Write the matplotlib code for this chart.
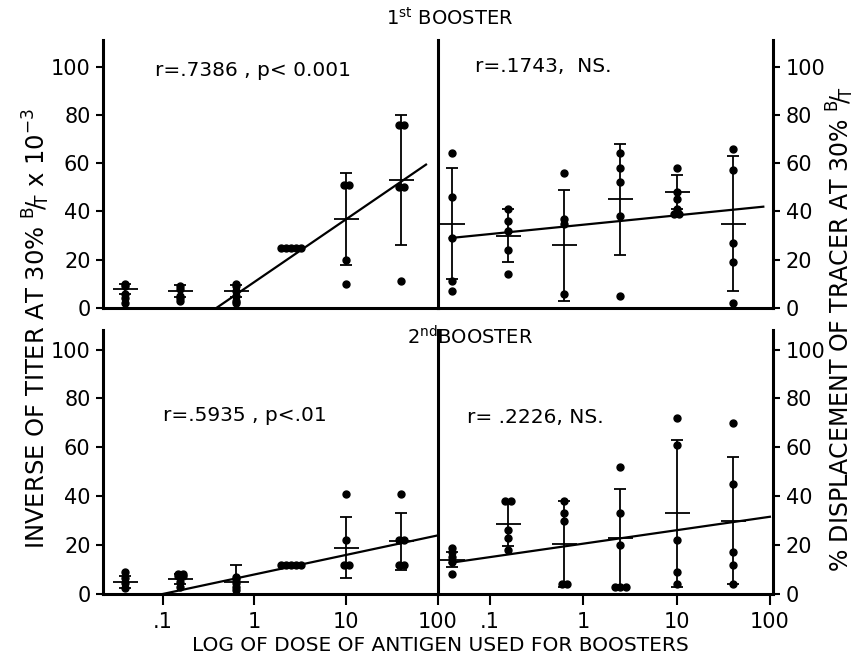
import math
import matplotlib.pyplot as plt

plt.rcParams['font.family'] = ['DejaVu Sans']
plt.rcParams['mathtext.default'] = 'regular'

# 抗原剂量（每组 4 倍稀释）
doses = [0.039, 0.156, 0.625, 2.5, 10, 40]

# 1st booster - 滴度倒数
tl_pts = [[10, 9, 6, 4, 2], [9, 8, 5, 4, 3], [10, 9, 7, 5, 3, 2],
          [25, 25, 25, 25, 25], [51, 51, 20, 10], [76, 76, 50, 50, 11]]
tl_mean = [8, 7, 7, 25, 37, 53]
tl_sd = [2, 2.5, 2.5, 0, 19, 27]
tl_fit = (10.8, 26.0)        # 截距, 斜率 (每个数量级)
tl_span = (0.38, 74)

# 1st booster - 示踪剂置换 %
tr_pts = [[64, 46, 29, 11, 7], [41, 36, 32, 24, 14], [56, 37, 35, 6],
          [64, 58, 52, 38, 5], [58, 48, 45, 41, 39, 39], [66, 57, 27, 19, 2]]
tr_mean = [35, 30, 26, 45, 48, 35]
tr_sd = [23, 11, 23, 23, 7, 28]
tr_fit = (34.5, 3.87)
tr_span = (0.037, 85)

# 2nd booster - 滴度倒数
bl_pts = [[9, 6.5, 4.5, 2.5], [8, 8, 7.5, 7.5, 5, 3], [7, 6, 4.5, 3, 1.5],
          [12, 12, 12, 12, 12], [41, 22, 12, 12], [41, 22, 22, 12, 12]]
bl_mean = [5, 6, 5, 12, 19, 21.5]
bl_sd = [2.5, 2, 7, 0, 12.5, 11.5]
bl_fit = (8.0, 8.0)
bl_span = (0.1, 100)

# 2nd booster - 示踪剂置换 %
br_pts = [[19, 17, 15, 13, 8], [38, 38, 26, 23, 18], [38, 33, 30, 4, 4],
          [52, 33, 20, 3, 3, 3], [72, 61, 22, 9, 4], [70, 45, 17, 12, 4]]
br_mean = [14, 28.5, 20.5, 23, 33, 30]
br_sd = [3, 9, 17.5, 20, 30, 26]
br_fit = (20.6, 5.5)
br_span = (0.037, 100)

stats = ['r=.7386 , p< 0.001', 'r=.1743,  NS.', 'r=.5935 , p<.01', 'r= .2226, NS.']
yticks = [0, 20, 40, 60, 80, 100]
left_xticks = [0.1, 1, 10, 100]
left_xlabels = ['.1', '1', '10', '100']
right_xticks = [0.1, 1, 10, 100]
right_xlabels = ['.1', '1', '10', '100']

fig = plt.figure(figsize=(8.55, 6.69), dpi=100)

def draw_panel(ax, pts, means, sds, fit, span):
    for d, vals, m, s in zip(doses, pts, means, sds):
        # 相同数值的点并排摆开
        counts = {}
        for v in vals:
            counts[v] = counts.get(v, 0) + 1
        seen = {}
        xs = []
        for v in vals:
            k = seen.get(v, 0)
            seen[v] = k + 1
            off = (k - (counts[v] - 1) / 2) * 0.055
            xs.append(d * 10 ** off)
        ax.plot(xs, vals, 'o', color='k', ms=5, clip_on=False, zorder=3)
        if s > 0:
            ax.errorbar(d, m, yerr=s, fmt='none', ecolor='k', elinewidth=1.3,
                        capsize=4.5, capthick=1.3)
        ax.plot(d, m, marker='_', ms=18, mew=1.3, color='k')
    a, b = fit
    xs = [span[0] * (span[1] / span[0]) ** (i / 50) for i in range(51)]
    ys = [a + b * math.log10(x) for x in xs]
    ax.plot(xs, ys, color='k', lw=1.6)

def style(ax, side, ylim_top, bottom_row, xticks, xlabels):
    ax.set_xscale('log')
    ax.set_ylim(0, ylim_top)
    ax.minorticks_off()
    ax.spines['top'].set_visible(False)
    for sp in ax.spines.values():
        sp.set_linewidth(2.2)
    ax.set_yticks(yticks)
    if side == 'left':
        ax.spines['right'].set_visible(False)
    else:
        ax.yaxis.tick_right()
    ax.tick_params(axis='y', direction='out', length=5, width=1.5, labelsize=15, pad=4)
    if bottom_row:
        ax.set_xticks(xticks)
        ax.set_xticklabels(xlabels)
        ax.tick_params(axis='x', direction='out', length=8, width=1.5, labelsize=15, pad=5)
    else:
        ax.set_xticks([])

L, W = 0.1205, 0.3918
R = 0.5123
top_b, top_h = 0.5396, 0.4006
bot_b, bot_h = 0.1121, 0.3946

ax_tl = fig.add_axes([L, top_b, W, top_h])
ax_tr = fig.add_axes([R, top_b, W, top_h])
ax_bl = fig.add_axes([L, bot_b, W, bot_h])
ax_br = fig.add_axes([R, bot_b, W, bot_h])

draw_panel(ax_tl, tl_pts, tl_mean, tl_sd, tl_fit, tl_span)
draw_panel(ax_tr, tr_pts, tr_mean, tr_sd, tr_fit, tr_span)
draw_panel(ax_bl, bl_pts, bl_mean, bl_sd, bl_fit, bl_span)
draw_panel(ax_br, br_pts, br_mean, br_sd, br_fit, br_span)

style(ax_tl, 'left', 111, False, left_xticks, left_xlabels)
style(ax_tr, 'right', 111, False, right_xticks, right_xlabels)
style(ax_bl, 'left', 108, True, left_xticks, left_xlabels)
style(ax_br, 'right', 108, True, right_xticks, right_xlabels)

for ax in (ax_tl, ax_bl):
    ax.set_xlim(0.0224, 100)
for ax in (ax_tr, ax_br):
    ax.set_xlim(0.0277, 108)

ax_tl.text(0.155, 0.888, stats[0], transform=ax_tl.transAxes, fontsize=14.5, va='center')
ax_tr.text(0.11, 0.90, stats[1], transform=ax_tr.transAxes, fontsize=14.5, va='center')
ax_bl.text(0.18, 0.678, stats[2], transform=ax_bl.transAxes, fontsize=14.5, va='center')
ax_br.text(0.087, 0.67, stats[3], transform=ax_br.transAxes, fontsize=14.5, va='center')

fig.text(0.526, 0.974, r'1$^{st}$ BOOSTER', ha='center', va='center', fontsize=14)
fig.text(0.55, 0.496, r'2$^{nd}$BOOSTER', ha='center', va='center', fontsize=14)
fig.text(0.043, 0.51, r'INVERSE OF TITER AT 30% $^{B}\!/\!_{T}$ x 10$^{-3}$',
         rotation=90, ha='center', va='center', fontsize=17.5)
fig.text(0.983, 0.507, r'% DISPLACEMENT OF TRACER AT 30% $^{B}\!/\!_{T}$',
         rotation=90, ha='center', va='center', fontsize=17)
fig.text(0.515, 0.035, 'LOG OF DOSE OF ANTIGEN USED FOR BOOSTERS',
         ha='center', va='center', fontsize=14.5)

fig.savefig('out.png', dpi=100)
